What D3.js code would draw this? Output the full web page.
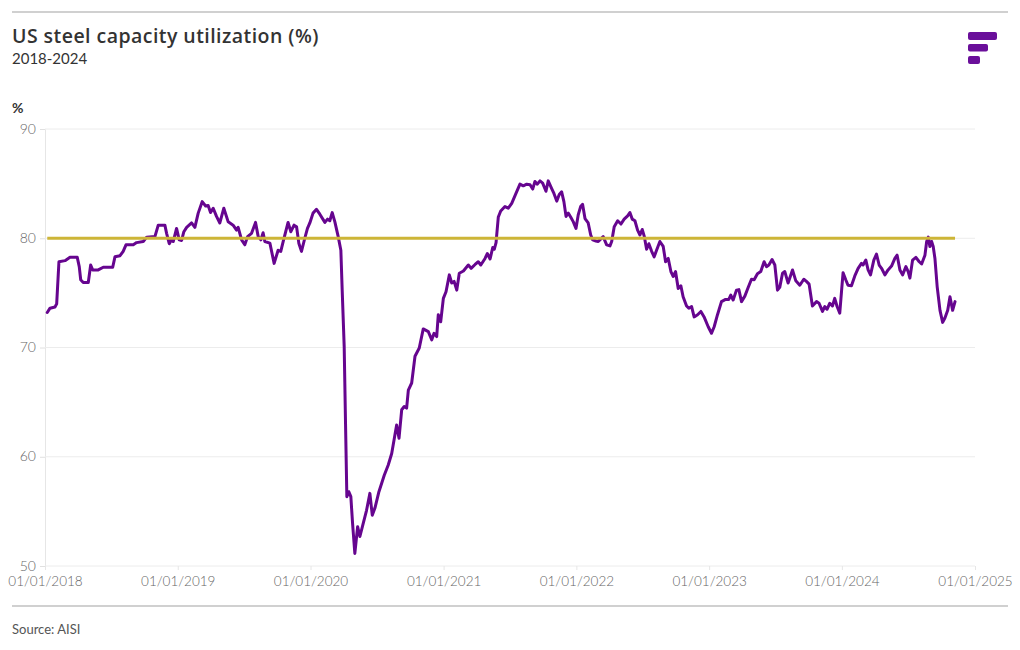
<!DOCTYPE html>
<html>
<head>
<meta charset="utf-8">
<script src="https://cdn.jsdelivr.net/npm/d3@7"></script>
<style>
  html, body { margin: 0; padding: 0; background: #fff; }
  svg { display: block; font-family: Lato, "Open Sans", sans-serif; }
</style>
</head>
<body>
<svg id="chart" width="1020" height="650"></svg>
<script>
// ---- Data (dates as fractional years, weekly utilization %) ----
const dateYears = [
  2018.017,2018.038,2018.075,2018.088,2018.105,2018.151,2018.188,2018.243,2018.258,2018.269,
  2018.288,2018.326,2018.344,2018.359,2018.401,2018.439,2018.510,2018.527,2018.565,2018.589,
  2018.610,2018.665,2018.690,2018.740,2018.766,2018.828,2018.853,2018.903,2018.916,2018.936,
  2018.954,2018.966,2018.991,2019.011,2019.029,2019.046,2019.067,2019.104,2019.129,2019.154,
  2019.184,2019.210,2019.229,2019.247,2019.267,2019.292,2019.317,2019.347,2019.380,2019.417,
  2019.443,2019.455,2019.481,2019.505,2019.526,2019.556,2019.586,2019.606,2019.626,2019.643,
  2019.656,2019.694,2019.726,2019.756,2019.776,2019.794,2019.831,2019.852,2019.876,2019.895,
  2019.912,2019.932,2019.957,2019.977,2019.995,2020.019,2020.045,2020.070,2020.108,2020.128,
  2020.145,2020.163,2020.183,2020.208,2020.228,2020.238,2020.253,2020.263,2020.273,2020.288,
  2020.303,2020.316,2020.333,2020.354,2020.371,2020.396,2020.421,2020.446,2020.464,2020.484,
  2020.514,2020.554,2020.584,2020.610,2020.634,2020.647,2020.665,2020.685,2020.704,2020.722,
  2020.735,2020.760,2020.785,2020.817,2020.847,2020.885,2020.911,2020.928,2020.948,2020.960,
  2020.978,2020.998,2021.018,2021.043,2021.061,2021.079,2021.099,2021.118,2021.149,2021.186,
  2021.207,2021.237,2021.261,2021.280,2021.312,2021.329,2021.350,2021.370,2021.382,2021.395,
  2021.400,2021.412,2021.430,2021.462,2021.487,2021.513,2021.545,2021.575,2021.600,2021.626,
  2021.651,2021.671,2021.688,2021.706,2021.726,2021.746,2021.771,2021.788,2021.814,2021.831,
  2021.852,2021.871,2021.889,2021.906,2021.922,2021.939,2021.959,2021.977,2021.997,2022.014,
  2022.032,2022.047,2022.065,2022.089,2022.108,2022.123,2022.147,2022.165,2022.202,2022.228,
  2022.253,2022.266,2022.285,2022.311,2022.336,2022.360,2022.386,2022.403,2022.421,2022.441,
  2022.461,2022.479,2022.496,2022.511,2022.529,2022.546,2022.567,2022.586,2022.604,2022.629,
  2022.654,2022.672,2022.692,2022.712,2022.729,2022.747,2022.767,2022.787,2022.804,2022.830,
  2022.847,2022.868,2022.887,2022.913,2022.938,2022.962,2022.993,2023.018,2023.038,2023.063,
  2023.093,2023.124,2023.148,2023.163,2023.181,2023.206,2023.224,2023.244,2023.269,2023.294,
  2023.319,2023.339,2023.364,2023.389,2023.414,2023.432,2023.450,2023.474,2023.495,2023.515,
  2023.532,2023.553,2023.570,2023.595,2023.628,2023.653,2023.683,2023.713,2023.733,2023.753,
  2023.778,2023.809,2023.828,2023.854,2023.871,2023.888,2023.909,2023.929,2023.946,2023.964,
  2023.984,2023.997,2024.009,2024.029,2024.046,2024.072,2024.097,2024.122,2024.147,2024.159,
  2024.180,2024.197,2024.215,2024.240,2024.260,2024.280,2024.298,2024.323,2024.347,2024.373,
  2024.398,2024.415,2024.436,2024.456,2024.481,2024.498,2024.511,2024.531,2024.556,2024.581,
  2024.599,2024.624,2024.637,2024.649,2024.661,2024.674,2024.686,2024.699,2024.716,2024.737,
  2024.757,2024.774,2024.795,2024.812,2024.832,2024.850
];
const utilization = [
  73.2,73.6,73.7,74.0,77.85,77.95,78.25,78.25,77.4,76.2,
  75.95,75.95,77.55,77.1,77.1,77.35,77.35,78.3,78.4,78.8,
  79.4,79.4,79.6,79.7,80.1,80.15,81.2,81.2,80.45,79.5,
  79.9,79.7,80.9,79.85,79.8,80.6,81.0,81.4,81.0,82.3,
  83.35,82.95,83.0,82.35,82.75,82.0,81.4,82.75,81.5,81.2,
  80.75,81.0,79.85,79.4,80.15,80.45,81.45,80.15,79.85,80.5,
  79.7,79.55,77.7,78.9,78.8,79.7,81.45,80.6,81.2,81.05,
  79.55,78.8,80.0,80.9,81.4,82.3,82.65,82.2,81.45,81.75,
  81.6,82.35,81.5,80.15,78.9,75.25,70.1,63.1,56.35,56.8,
  56.35,53.9,51.15,53.6,52.7,53.9,55.1,56.65,54.65,55.3,
  56.8,58.3,59.25,60.3,62.0,62.9,61.7,64.3,64.6,64.45,
  66.1,66.75,69.2,69.95,71.7,71.45,70.7,71.3,71.0,73.0,
  72.35,74.5,75.1,76.65,75.9,76.05,75.25,76.8,77.0,77.55,
  77.25,77.6,77.85,77.55,78.15,78.6,78.1,79.15,79.0,79.6,
  80.3,81.95,82.5,82.9,82.75,83.2,84.1,84.95,84.8,84.95,
  84.9,84.5,85.2,84.95,85.25,85.05,84.3,85.25,84.55,84.1,
  83.4,84.0,84.25,83.35,82.0,82.3,81.9,81.5,80.9,82.15,
  82.9,83.1,81.8,81.4,80.3,79.85,79.75,79.7,80.15,79.4,
  79.3,79.7,81.05,81.6,81.3,81.75,82.05,82.35,81.75,81.6,
  80.75,80.3,80.8,80.2,79.0,79.5,78.8,78.3,78.9,79.7,
  79.25,77.85,78.15,76.95,76.5,76.95,75.4,75.65,74.65,73.8,
  73.6,73.75,72.8,73.0,73.3,72.8,71.9,71.3,71.9,73.0,
  74.2,74.4,74.4,74.8,74.35,75.25,75.3,74.2,74.7,75.5,
  76.25,76.2,76.75,76.95,77.85,77.4,77.55,78.05,77.55,75.25,
  75.5,76.8,76.95,75.9,77.1,76.1,75.7,76.25,76.05,75.8,
  73.8,74.2,74.05,73.3,73.75,73.5,74.05,73.8,74.5,73.75,
  73.15,75.1,76.85,76.2,75.7,75.65,76.55,77.25,77.7,77.55,
  78.0,77.1,76.65,78.0,78.55,77.55,77.25,76.65,77.1,77.45,
  78.15,78.45,77.1,76.65,77.4,76.95,76.35,78.0,78.25,77.85,
  77.65,78.45,79.7,80.1,79.25,79.7,79.25,78.15,75.55,73.4,
  72.3,72.7,73.4,74.65,73.4,74.2
];
const thresholdValue = 80;
const yTicks = [50, 60, 70, 80, 90];
const xTickLabels = ["01/01/2018","01/01/2019","01/01/2020","01/01/2021","01/01/2022","01/01/2023","01/01/2024","01/01/2025"];
const titleText = "US steel capacity utilization (%)";
const subtitleText = "2018-2024";
const unitText = "%";
const sourceText = "Source: AISI";

// ---- helpers ----
function yearToDate(y) {
  const yr = Math.floor(y);
  const start = Date.UTC(yr, 0, 1), end = Date.UTC(yr + 1, 0, 1);
  return new Date(start + (y - yr) * (end - start));
}
const parseTick = d3.utcParse("%d/%m/%Y");
const series = dateYears.map((y, i) => ({ date: yearToDate(y), value: utilization[i] }));
const thresholdSeries = [
  { date: series[0].date, value: thresholdValue },
  { date: series[series.length - 1].date, value: thresholdValue }
];

// ---- layout ----
const svg = d3.select("#chart");
const plot = { left: 45, right: 975, top: 129, bottom: 566 };
const purple = "#66058f";
const gold = "#cdb537";

const x = d3.scaleUtc()
  .domain([parseTick(xTickLabels[0]), parseTick(xTickLabels[xTickLabels.length - 1])])
  .range([plot.left, plot.right]);
const y = d3.scaleLinear().domain([50, 90]).range([plot.bottom, plot.top]);

// rules
svg.append("line").attr("x1", 12).attr("x2", 1008).attr("y1", 12).attr("y2", 12)
  .attr("stroke", "#d0d0d0").attr("stroke-width", 2);
svg.append("line").attr("x1", 12).attr("x2", 1008).attr("y1", 606).attr("y2", 606)
  .attr("stroke", "#d0d0d0").attr("stroke-width", 2);

// titles
svg.append("text").attr("x", 12).attr("y", 43).text(titleText)
  .attr("font-family", "'Open Sans', Lato, sans-serif")
  .attr("font-size", 19.5).attr("letter-spacing", 0.45)
  .attr("font-weight", 600).attr("fill", "#333");
svg.append("text").attr("x", 12).attr("y", 64).text(subtitleText)
  .attr("font-size", 15).attr("fill", "#333");
svg.append("text").attr("x", 12).attr("y", 113).text(unitText)
  .attr("font-size", 14).attr("font-weight", 700).attr("fill", "#333");
svg.append("text").attr("x", 12).attr("y", 634).text(sourceText)
  .attr("font-size", 13).attr("fill", "#555");

// logo
const logoBars = [[968, 32, 29, 8], [968, 44, 20, 7.5], [968, 56, 12, 8]];
svg.append("g").selectAll("rect").data(logoBars).join("rect")
  .attr("x", d => d[0]).attr("y", d => d[1]).attr("width", d => d[2]).attr("height", d => d[3])
  .attr("rx", 2).attr("fill", "#6a0f9a");

// y axis + grid
const yAxis = d3.axisLeft(y).tickValues(yTicks).tickSize(5).tickPadding(4);
const gy = svg.append("g").attr("transform", `translate(${plot.left},0)`).call(yAxis);
gy.select(".domain").attr("stroke", "#e6e6e6");
gy.selectAll(".tick line").attr("stroke", "#e0e0e0");
gy.selectAll(".tick text").attr("font-size", 14).attr("font-weight", 300).attr("fill", "#666")
  .attr("font-family", "Lato, sans-serif").attr("dy", "0.3em");
svg.append("g").selectAll("line").data(yTicks).join("line")
  .attr("x1", plot.left).attr("x2", plot.right)
  .attr("y1", d => y(d)).attr("y2", d => y(d))
  .attr("stroke", "#ececec").attr("stroke-width", 1);

// x axis
const xTicks = xTickLabels.map(parseTick);
const xAxis = d3.axisBottom(x).tickValues(xTicks).tickFormat(d3.utcFormat("%d/%m/%Y")).tickSize(4).tickPadding(6);
const gx = svg.append("g").attr("transform", `translate(0,${plot.bottom})`).call(xAxis);
gx.select(".domain").remove();
gx.selectAll(".tick line").attr("stroke", "#e6e6e6");
gx.selectAll(".tick text").attr("font-size", 13.5).attr("font-weight", 300).attr("fill", "#666")
  .attr("font-family", "Lato, sans-serif");

// lines
const line = d3.line().x(d => x(d.date)).y(d => y(d.value)).curve(d3.curveLinear);
svg.append("path").datum(series).attr("d", line)
  .attr("fill", "none").attr("stroke", purple).attr("stroke-width", 3)
  .attr("stroke-linejoin", "round").attr("stroke-linecap", "round");
svg.append("path").datum(thresholdSeries).attr("d", line)
  .attr("fill", "none").attr("stroke", gold).attr("stroke-width", 3);
</script>
</body>
</html>
